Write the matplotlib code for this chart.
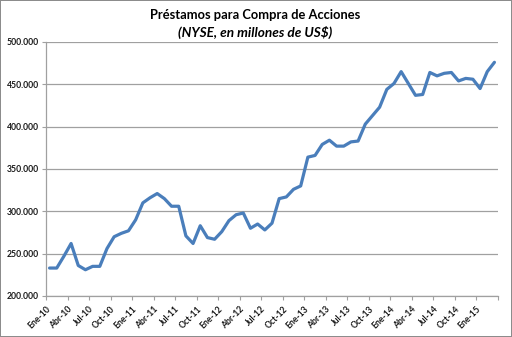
#!/usr/bin/env python3
"""
Margin debt chart: Préstamos para Compra de Acciones (NYSE), Ene-10 to Mar-15.
Monthly values in millions of US$, read off the original Excel chart.
"""

import numpy as np
import matplotlib
matplotlib.use('Agg')
import matplotlib.pyplot as plt
from matplotlib.ticker import FuncFormatter

# Monthly loan balance, Ene-10 .. Mar-15 (63 months)
loans = [
    233, 233, 247, 262, 236, 231, 235, 235, 256, 270, 274, 277,   # 2010
    290, 310, 316, 321, 315, 306, 306, 271, 262, 283, 269, 267,   # 2011
    276, 289, 296, 298, 280, 285, 278, 286, 315, 317, 326, 330,   # 2012
    364, 366, 379, 384, 377, 377, 382, 383, 403, 413, 423, 444,   # 2013
    451, 465, 451, 437, 438, 464, 460, 463, 464, 454, 457, 456,   # 2014
    445, 465, 476,                                                # 2015
]

# Category labels shown every third month
tick_labels = [
    'Ene-10', 'Abr-10', 'Jul-10', 'Oct-10',
    'Ene-11', 'Abr-11', 'Jul-11', 'Oct-11',
    'Ene-12', 'Abr-12', 'Jul-12', 'Oct-12',
    'Ene-13', 'Abr-13', 'Jul-13', 'Oct-13',
    'Ene-14', 'Abr-14', 'Jul-14', 'Oct-14',
    'Ene-15',
]

y_ticks = [200, 250, 300, 350, 400, 450, 500]

LINE_COLOR = '#4A7EBB'
GRID_COLOR = '#A0A0A0'
FONT = 'Lato'


def thousands(v, _pos):
    # Excel style "500.000"
    return f'{int(v):,}.000'.replace(',', '.')


def main():
    plt.rcParams['font.family'] = [FONT, 'DejaVu Sans']

    fig = plt.figure(figsize=(5.12, 3.37), dpi=100)
    fig.patch.set_facecolor('white')
    fig.patch.set_edgecolor('#8C8C8C')
    fig.patch.set_linewidth(1.2)

    ax = fig.add_axes([0.0898, 0.1217, 0.8829, 0.7537])

    x = np.arange(len(loans))
    ax.plot(x, loans, color=LINE_COLOR, linewidth=2.3,
            solid_joinstyle='round', solid_capstyle='round', zorder=3)

    # Category axis: ticks sit between months, one every quarter
    ax.set_xlim(-0.5, len(loans) - 0.5)
    tick_pos = np.arange(-0.5, len(loans), 3)
    ax.set_xticks(tick_pos)
    ax.set_xticklabels(tick_labels + [''] * (len(tick_pos) - len(tick_labels)),
                       rotation=45, ha='right', va='top',
                       rotation_mode='anchor', fontsize=6.2,
                       fontweight='bold', color='#1a1a1a')

    ax.set_ylim(200, 500)
    ax.set_yticks(y_ticks)
    ax.yaxis.set_major_formatter(FuncFormatter(thousands))
    for lbl in ax.get_yticklabels():
        lbl.set_fontsize(6.2)
        lbl.set_fontweight('bold')
        lbl.set_color('#1a1a1a')

    ax.tick_params(axis='both', direction='out', length=3, width=0.8,
                   color=GRID_COLOR, pad=2)
    ax.tick_params(axis='x', pad=3)

    ax.grid(True, axis='y', color=GRID_COLOR, linewidth=0.9)
    ax.set_axisbelow(True)
    for side in ('top', 'right'):
        ax.spines[side].set_visible(False)
    for side in ('left', 'bottom'):
        ax.spines[side].set_color(GRID_COLOR)
        ax.spines[side].set_linewidth(0.9)

    fig.text(0.499, 0.955, 'Préstamos para Compra de Acciones',
             ha='center', va='center', fontsize=9.3, fontweight='bold')
    fig.text(0.499, 0.903, '(NYSE, en millones de US$)',
             ha='center', va='center', fontsize=9.8, fontweight='bold',
             style='italic')

    fig.savefig('out.png', dpi=100, facecolor='white',
                edgecolor=fig.get_edgecolor())
    plt.close(fig)


if __name__ == '__main__':
    main()
